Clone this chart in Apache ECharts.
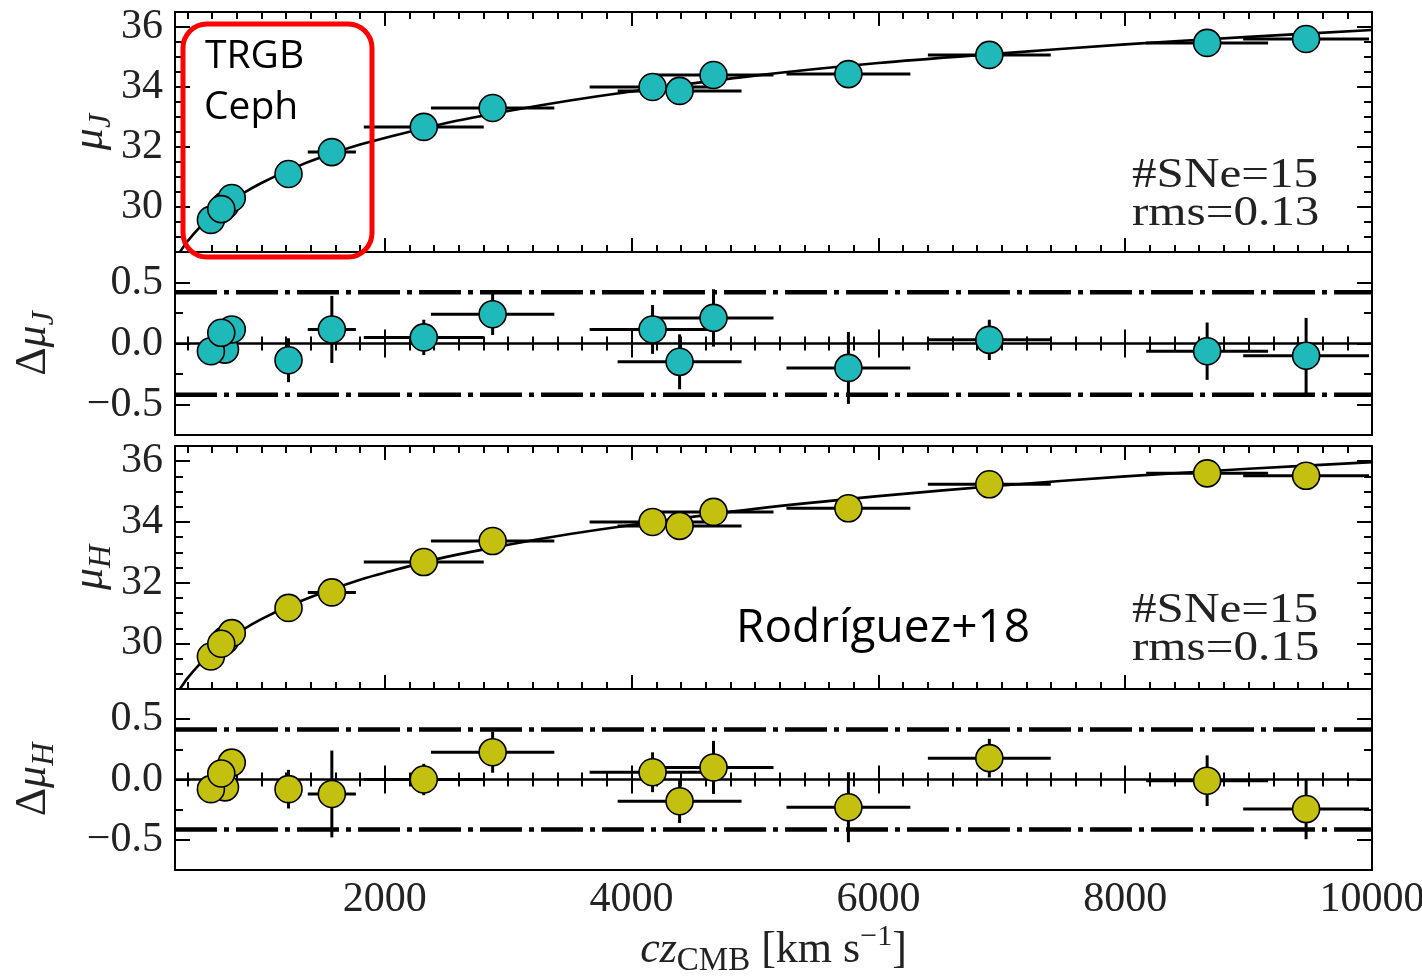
<!DOCTYPE html>
<html><head><meta charset="utf-8">
<script src="https://cdn.jsdelivr.net/npm/echarts@6/dist/echarts.min.js"></script>
<style>html,body{margin:0;padding:0;background:#fff}#c{width:1422px;height:977px}</style>
</head><body><div id="c"></div>
<script>
// ---- data ----
const cz     = [705, 591, 760, 675, 1220, 1571, 2316, 2874, 4170, 4389, 4664, 5757, 6899, 8664, 9466];
const czErr  = [60, 60, 60, 60, 80, 195, 486, 500, 510, 502, 486, 502, 498, 494, 510];
const muJ    = [30.05, 29.57, 30.3, 29.93, 31.1, 31.83, 32.67, 33.3, 34.0, 33.87, 34.4, 34.43, 35.07, 35.47, 35.6];
const dmuJ   = [-0.05, -0.063, 0.115, 0.088, -0.137, 0.115, 0.05, 0.24, 0.115, -0.15, 0.21, -0.2, 0.03, -0.063, -0.1];
const errJ   = [0.06, 0.06, 0.06, 0.06, 0.18, 0.275, 0.145, 0.17, 0.2, 0.225, 0.235, 0.295, 0.165, 0.235, 0.31];
const muH    = [30.1, 29.57, 30.34, 29.99, 31.17, 31.68, 32.68, 33.37, 34.0, 33.87, 34.33, 34.45, 35.24, 35.6, 35.52];
const dmuH   = [-0.065, -0.08, 0.14, 0.05, -0.08, -0.12, 0.0, 0.226, 0.06, -0.18, 0.10, -0.23, 0.177, -0.01, -0.245];
const errH   = [0.06, 0.06, 0.06, 0.06, 0.16, 0.36, 0.13, 0.17, 0.165, 0.18, 0.22, 0.29, 0.16, 0.21, 0.25];
const fitCz  = [340, 400, 500, 600, 700, 850, 1000, 1250, 1500, 1800, 2000, 2500, 3000, 3500, 4000, 5000, 6000, 7000, 8000, 9000, 10000];
const fitMuJ = [28.5, 28.85, 29.32, 29.7, 30.03, 30.45, 30.8, 31.28, 31.68, 32.08, 32.3, 32.8, 33.2, 33.55, 33.85, 34.38, 34.8, 35.12, 35.42, 35.67, 35.9];
const fitMuH = [28.5, 28.85, 29.32, 29.7, 30.03, 30.45, 30.8, 31.28, 31.68, 32.1, 32.33, 32.85, 33.25, 33.6, 33.9, 34.43, 34.85, 35.2, 35.5, 35.75, 35.97];
const bandJ = 0.42, bandH = 0.415;
const xRange = [300, 10000];
const muRange = [28.5, 36.5];
const resRange = [-0.75, 0.75];
const xMajorTicks = [2000, 4000, 6000, 8000];
const xTickLabels = [2000, 4000, 6000, 8000, 10000];
const xMinorTicks = [];
for (let v = 400; v < 10000; v += 200) if (v % 2000 !== 0) xMinorTicks.push(v);
const muMajorTicks = [30, 32, 34, 36];
const muMinorTicks = [29, 29.5, 30.5, 31, 31.5, 32.5, 33, 33.5, 34.5, 35, 35.5, 36];
const resMajorTicks = [-0.5, 0, 0.5];
const resMinorTicks = [-0.25, 0.25];
const statsJ = '#SNe=15\nrms=0.13';
const statsH = '#SNe=15\nrms=0.15';

const cyan = '#1fb9b9', yel = '#c3c010';
const serif = 'Liberation Serif';
const txt = '#222';

const grids = [
  {left: 175, top: 12, width: 1197, height: 240},
  {left: 175, top: 252, width: 1197, height: 183},
  {left: 175, top: 446, width: 1197, height: 243},
  {left: 175, top: 689, width: 1197, height: 181}
].map(g => Object.assign(g, {show: true, borderColor: '#000', borderWidth: 2, backgroundColor: 'transparent',
  containLabel: false, outerBoundsMode: 'none'}));

const LH = 56;
const nameRich = {
  it:  {fontFamily: serif, fontStyle: 'italic', fontSize: 44, lineHeight: LH, verticalAlign: 'middle', color: txt},
  rm:  {fontFamily: serif, fontSize: 44, lineHeight: LH, verticalAlign: 'middle', color: txt},
  sub: {fontFamily: serif, fontStyle: 'italic', fontSize: 32, lineHeight: 36, verticalAlign: 'bottom', color: txt},
  subrm: {fontFamily: serif, fontSize: 33, lineHeight: 36, verticalAlign: 'bottom', color: txt},
  sup: {fontFamily: serif, fontSize: 30, lineHeight: 32, verticalAlign: 'top', color: txt}
};

function tickAxis(kind, g, pos, values, len, extra) {
  const a = {
    type: 'value', gridIndex: g, position: pos,
    min: kind === 'x' ? xRange[0] : extra.range[0],
    max: kind === 'x' ? xRange[1] : extra.range[1],
    axisLine: {show: false}, splitLine: {show: false},
    axisTick: {show: true, inside: true, length: len, customValues: values, lineStyle: {color: '#000', width: 2}},
    axisLabel: {show: false}
  };
  if (extra && extra.label) a.axisLabel = extra.label;
  if (extra && extra.name) Object.assign(a, extra.name);
  return a;
}

const xAxes = [], yAxes = [];
for (let g = 0; g < 4; g++) {
  const isRes = g % 2 === 1;
  const bottomExtra = {};
  if (g === 3) {
    bottomExtra.label = {show: true, customValues: xTickLabels, showMaxLabel: true, showMinLabel: true,
      fontFamily: serif, fontSize: 42, color: txt, margin: 9, formatter: v => String(v)};
    bottomExtra.name = {name: '{it|cz}{subrm|CMB}{rm| [km s}{sup|−1}{rm|]}', nameLocation: 'middle', nameGap: 52,
      nameMoveOverlap: false, nameTextStyle: {rich: nameRich}};
  }
  xAxes.push(tickAxis('x', g, 'bottom', xMajorTicks, 14, bottomExtra));
  xAxes.push(tickAxis('x', g, 'bottom', xMinorTicks, 7, {}));
  xAxes.push(tickAxis('x', g, 'top', xMajorTicks, 14, {}));
  xAxes.push(tickAxis('x', g, 'top', xMinorTicks, 7, {}));

  const range = isRes ? resRange : muRange;
  const major = isRes ? resMajorTicks : muMajorTicks;
  const minor = isRes ? resMinorTicks : muMinorTicks;
  const band = g < 2 ? 'J' : 'H';
  const nm = isRes ? '{rm|Δ}{it|μ}{sub|' + band + '}' : '{it|μ}{sub|' + band + '}';
  yAxes.push(tickAxis('y', g, 'left', major, 15, {range,
    label: {show: true, customValues: major, fontFamily: serif, fontSize: 42, color: txt, margin: 12,
      formatter: v => isRes ? v.toFixed(1).replace('-', '−') : String(v)},
    name: {name: nm, nameLocation: 'middle', nameRotate: 90, nameGap: isRes ? 114 : 57, nameMoveOverlap: false,
      nameTextStyle: {rich: nameRich}}
  }));
  yAxes.push(tickAxis('y', g, 'left', minor, 8, {range}));
  yAxes.push(tickAxis('y', g, 'right', major, 15, {range}));
  yAxes.push(tickAxis('y', g, 'right', minor, 8, {range}));
}

function errBars(g, ys, yerr) {
  return {
    type: 'custom', xAxisIndex: 4 * g, yAxisIndex: 4 * g, z: 3, silent: true,
    data: cz.map((x, i) => [x, ys[i], czErr[i], yerr[i]]),
    renderItem: (params, api) => {
      const x = api.value(0), y = api.value(1), dx = api.value(2), dy = api.value(3);
      const a = api.coord([x - dx, y]), b = api.coord([x + dx, y]);
      const c = api.coord([x, y - dy]), d = api.coord([x, y + dy]);
      const st = {stroke: '#000', lineWidth: 3};
      return {type: 'group', children: [
        {type: 'line', shape: {x1: a[0], y1: a[1], x2: b[0], y2: b[1]}, style: st},
        {type: 'line', shape: {x1: c[0], y1: c[1], x2: d[0], y2: d[1]}, style: st}
      ]};
    }
  };
}
function dots(g, ys, color) {
  return {
    type: 'scatter', xAxisIndex: 4 * g, yAxisIndex: 4 * g, z: 4, silent: true,
    symbol: 'circle', symbolSize: 27,
    itemStyle: {color: color, borderColor: '#000', borderWidth: 1.6, opacity: 1},
    data: cz.map((x, i) => [x, ys[i]])
  };
}
function fitLine(g, ys) {
  return {
    type: 'line', xAxisIndex: 4 * g, yAxisIndex: 4 * g, z: 2, silent: true,
    showSymbol: false, smooth: 0.3, lineStyle: {color: '#000', width: 2.6},
    data: fitCz.map((x, i) => [x, ys[i]])
  };
}
function hLine(g, y, dashed) {
  return {
    type: 'line', xAxisIndex: 4 * g, yAxisIndex: 4 * g, z: 2, silent: true, showSymbol: false,
    lineStyle: {color: '#000', width: dashed ? 4.5 : 2.5, type: dashed ? [42, 7, 5, 7] : 'solid'},
    data: [[xRange[0], y], [xRange[1], y]]
  };
}

const series = [
  fitLine(0, fitMuJ), errBars(0, muJ, errJ), dots(0, muJ, cyan),
  hLine(1, 0, false), hLine(1, bandJ, true), hLine(1, -bandJ, true), errBars(1, dmuJ, errJ), dots(1, dmuJ, cyan),
  fitLine(2, fitMuH), errBars(2, muH, errH), dots(2, muH, yel),
  hLine(3, 0, false), hLine(3, bandH, true), hLine(3, -bandH, true), errBars(3, dmuH, errH), dots(3, dmuH, yel)
];

const graphic = [
  {type: 'text', x: 1132, y: 157, scaleX: 1.17, z: 50, style: {text: statsJ, fontFamily: serif, fontSize: 42, lineHeight: 38, fill: txt}},
  {type: 'text', x: 1132, y: 592, scaleX: 1.17, z: 50, style: {text: statsH, fontFamily: serif, fontSize: 42, lineHeight: 38, fill: txt}},
  {type: 'rect', z: 60, shape: {x: 183, y: 24, width: 189, height: 233, r: 24}, style: {fill: 'none', stroke: '#ff0000', lineWidth: 5}},
  {type: 'text', z: 60, x: 205, y: 57, style: {text: 'TRGB', fontFamily: 'Open Sans', fontSize: 39, fill: '#000', verticalAlign: 'middle'}},
  {type: 'text', z: 60, x: 204, y: 108, style: {text: 'Ceph', fontFamily: 'Open Sans', fontSize: 39, fill: '#000', verticalAlign: 'middle'}},
  {type: 'text', z: 60, x: 736, y: 629, style: {text: 'Rodríguez+18', fontFamily: 'Open Sans', fontSize: 46, fill: '#000', verticalAlign: 'middle'}}
];

const chart = echarts.init(document.getElementById('c'), null, {renderer: 'canvas'});
chart.setOption({
  animation: false, backgroundColor: '#fff',
  grid: grids, xAxis: xAxes, yAxis: yAxes, series: series, graphic: graphic
});
</script></body></html>
